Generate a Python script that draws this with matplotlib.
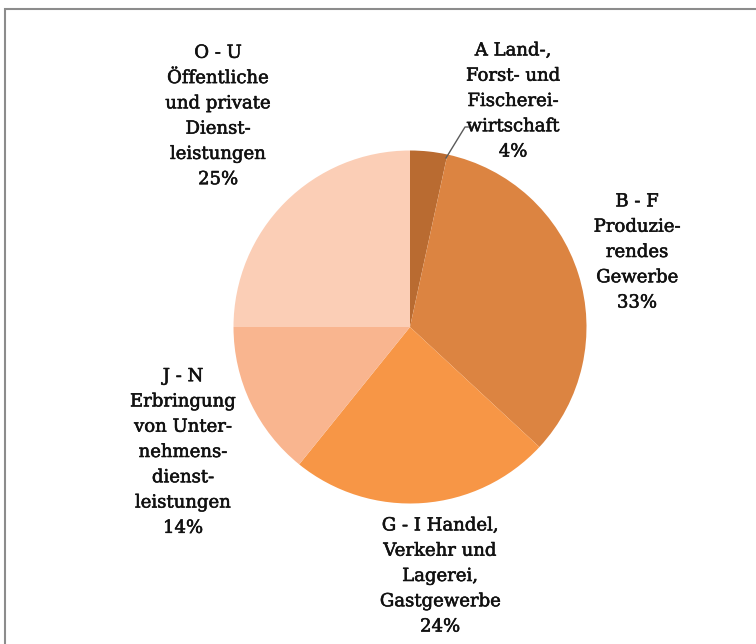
import numpy as np
import matplotlib
matplotlib.use('Agg')
import matplotlib.pyplot as plt
import matplotlib.patheffects as pe
from matplotlib.patches import Rectangle

# Anteile der Wirtschaftsbereiche (in %), Winkel
labels = ['A Land-,\nForst- und\nFischerei-\nwirtschaft',
          'B - F\nProduzie-\nrendes\nGewerbe',
          'G - I Handel,\nVerkehr und\nLagerei,\nGastgewerbe',
          'J - N\nErbringung\nvon Unter-\nnehmens-\ndienst-\nleistungen',
          'O - U\nÖffentliche\nund private\nDienst-\nleistungen']
shares = [3.4, 33.5, 23.9, 14.2, 25.0]
pct_text = ['4%', '33%', '24%', '14%', '25%']
colors = ['#B96B31', '#DC8441', '#F79646', '#F9B58F', '#FBCEB6']

# label centres in pixels (x, y from top)
label_pos = [(513, 101), (637, 252), (440, 576), (183, 452), (218, 116)]

W, H = 756, 644
cx, cy, R = 410, 327, 176.5

fig = plt.figure(figsize=(W/100, H/100), dpi=100)
ax = fig.add_axes([0, 0, 1, 1])

wedges, _ = ax.pie(shares, colors=colors, startangle=90, counterclock=False,
                   radius=1.0, wedgeprops=dict(linewidth=0))
ax.set_xlim(-cx/R, (W-cx)/R)
ax.set_ylim(-(H-cy)/R, cy/R)
ax.set_aspect('auto')
ax.axis('off')

def px(x, y):
    return (x - cx)/R, (cy - y)/R

for lab, p, (x, y) in zip(labels, pct_text, label_pos):
    tx, ty = px(x, y)
    t = ax.text(tx, ty, lab + '\n' + p, ha='center', va='center',
                family='DejaVu Serif', fontsize=13, linespacing=1.52, color='#111111')
    t.set_path_effects([pe.withStroke(linewidth=0.4, foreground='#111111')])

# leader line for the small slice
lx, ly = zip(px(446, 158), px(465, 127), px(471, 127))
ax.plot(lx, ly, color='#5a5a5a', lw=1.0)

# frame around the chart (only left and top edges fall inside the picture)
fig.patches.append(Rectangle((5/W, -1.0), 2.0, (H-9)/H + 1.0, transform=fig.transFigure,
                             fill=False, edgecolor='#8c8c8c', lw=1.5))

fig.savefig('out.png', dpi=100)
